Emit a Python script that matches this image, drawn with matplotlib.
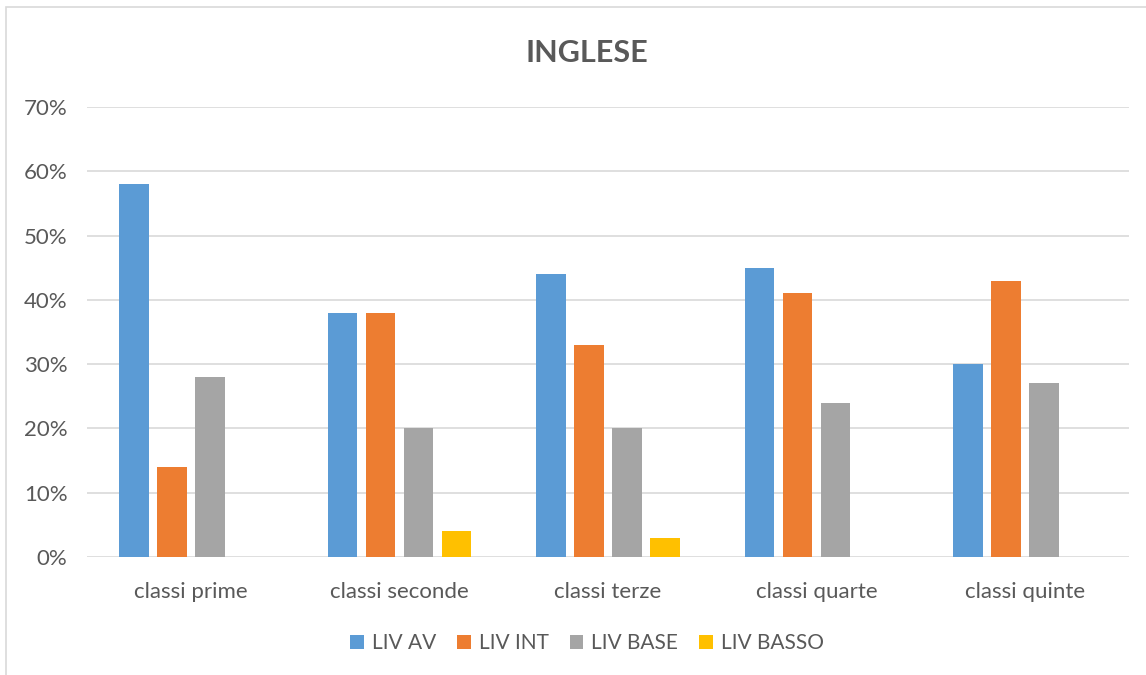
import matplotlib.pyplot as plt
import numpy as np
from matplotlib.patches import Rectangle
from matplotlib.ticker import PercentFormatter

categories = ['classi prime', 'classi seconde', 'classi terze', 'classi quarte', 'classi quinte']
series_names = ['LIV AV', 'LIV INT', 'LIV BASE', 'LIV BASSO']
liv_av = [58, 38, 44, 45, 30]
liv_int = [14, 38, 33, 41, 43]
liv_base = [28, 20, 20, 24, 27]
liv_basso = [0, 4, 3, 0, 0]
colors = ['#5B9BD5', '#ED7D31', '#A5A5A5', '#FFC000']

text_color = '#595959'
plt.rcParams['font.family'] = ['Lato', 'DejaVu Sans']

fig = plt.figure(figsize=(11.46, 6.75), dpi=100)
ax = fig.add_axes([87 / 1146, 1 - 557 / 675, (1129 - 87) / 1146, (557 - 107) / 675])

# chart border (right and bottom run off the picture)
fig.patches.append(Rectangle((6 / 1146, -0.05), 1.1, 1 - 7 / 675 + 0.05, transform=fig.transFigure,
                             fill=False, edgecolor='#D9D9D9', linewidth=1.2))

x = np.arange(len(categories))
width = 0.1416
step = 0.1823
for i, (name, vals) in enumerate(zip(series_names, [liv_av, liv_int, liv_base, liv_basso])):
    ax.bar(x + (i - 1.5) * step, vals, width, color=colors[i], label=name, zorder=3)

ax.set_xlim(-0.5, len(categories) - 0.5)
ax.set_ylim(0, 70)
ax.set_yticks(range(0, 71, 10))
ax.yaxis.set_major_formatter(PercentFormatter(decimals=0))
ax.set_xticks(x)
ax.set_xticklabels(categories)
ax.grid(axis='y', color='#D9D9D9', linewidth=1.2, zorder=0)
for s in ax.spines.values():
    s.set_visible(False)
ax.tick_params(length=0, colors=text_color, labelsize=16)
ax.tick_params(axis='x', pad=18)
ax.tick_params(axis='y', pad=14)

fig.text(587 / 1146, 1 - 53 / 675, 'INGLESE', ha='center', va='center', fontsize=22,
         fontweight='bold', color=text_color)

leg = fig.legend(loc='center', bbox_to_anchor=(587 / 1146, 1 - 643 / 675), ncol=4, frameon=False,
                 fontsize=15, handlelength=0.65, handleheight=0.65, handletextpad=0.4, columnspacing=1.0)
for t in leg.get_texts():
    t.set_color(text_color)

plt.savefig('out.png', dpi=100)
